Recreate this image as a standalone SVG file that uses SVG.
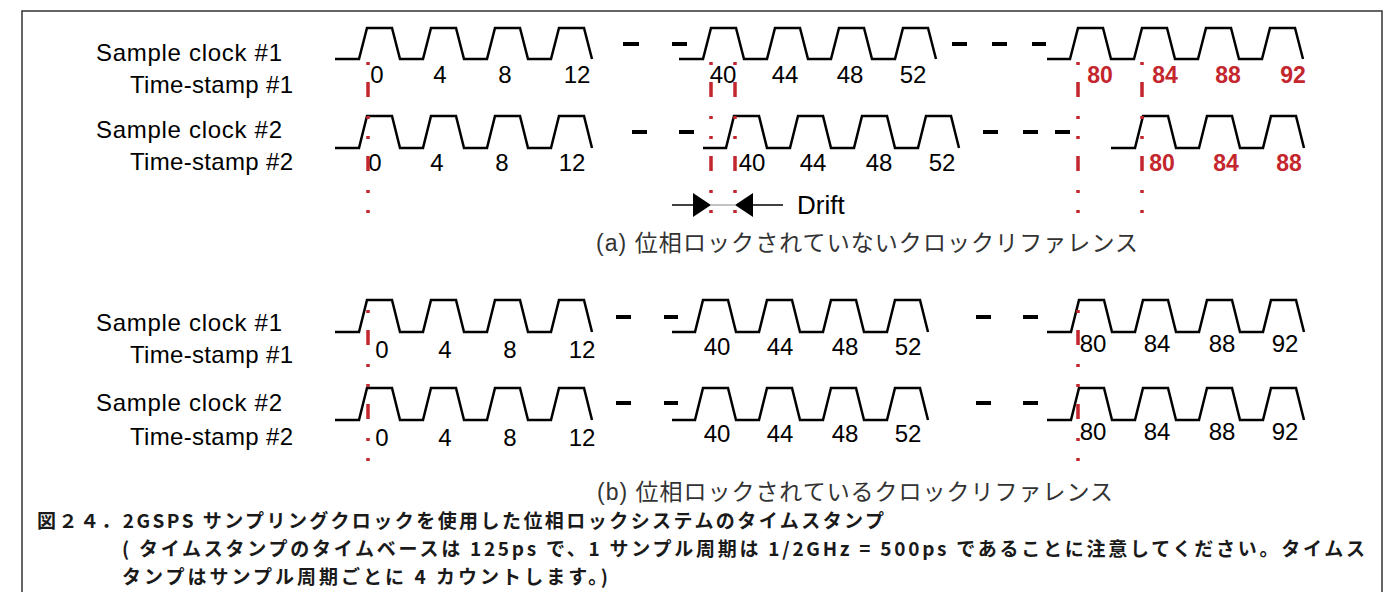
<svg xmlns="http://www.w3.org/2000/svg" width="1397" height="592" viewBox="0 0 1397 592">
<style>
.frame{fill:none;stroke:#333;stroke-width:1.5}
.wave{fill:none;stroke:#000;stroke-width:2.5;stroke-linejoin:miter}
.dash{stroke:#000;stroke-width:4}
.red{stroke:#c4262e;stroke-width:3.5;stroke-dasharray:3 17 15 19 3 17;fill:none}
.lbl{font-family:"Liberation Sans",Arial,sans-serif;font-size:24px;fill:#000}
.num{font-family:"Liberation Sans",Arial,sans-serif;font-size:24px;fill:#000;text-anchor:middle}
.rnum{font-family:"Liberation Sans",Arial,sans-serif;font-size:23px;font-weight:bold;fill:#c4262e;text-anchor:middle}
.sub{font-family:"Liberation Sans","Noto Sans CJK JP",sans-serif;font-size:23px;fill:#333}
.cap{font-family:"Noto Sans CJK JP",sans-serif;font-size:19px;font-weight:bold;fill:#1a1a1a}
</style>
<rect class="frame" x="22" y="11" width="1360" height="620"/>

<g id="panel-a">
  <g id="a-labels">
    <text class="lbl" x="96" y="61" textLength="186">Sample clock #1</text>
    <text class="lbl" x="130" y="93" textLength="163">Time-stamp #1</text>
    <text class="lbl" x="96" y="138" textLength="186">Sample clock #2</text>
    <text class="lbl" x="130" y="170" textLength="163">Time-stamp #2</text>
  </g>
  <g id="a-clock1">
    <path class="wave" d="M335,59 L359,59 L367,28 L392,28 L400,59 L423,59 L431,28 L456,28 L464,59 L487,59 L495,28 L520,28 L528,59 L551,59 L559,28 L584,28 L592,59"/>
    <path class="wave" d="M679,59 L703,59 L711,28 L736,28 L744,59 L767,59 L775,28 L800,28 L808,59 L831,59 L839,28 L864,28 L872,59 L895,59 L903,28 L928,28 L936,59"/>
    <path class="wave" d="M1047,59 L1070,59 L1078,28 L1103,28 L1111,59 L1134,59 L1142,28 L1167,28 L1175,59 L1198,59 L1206,28 L1231,28 L1239,59 L1262,59 L1270,28 L1295,28 L1303,59"/>
    <line class="dash" x1="623" y1="44" x2="639" y2="44"/>
    <line class="dash" x1="672" y1="44" x2="687" y2="44"/>
    <line class="dash" x1="952" y1="44" x2="967" y2="44"/>
    <line class="dash" x1="992" y1="44" x2="1007" y2="44"/>
    <line class="dash" x1="1032" y1="44" x2="1046" y2="44"/>
  </g>
  <g id="a-stamp1">
    <text class="num" x="377" y="83">0</text>
    <text class="num" x="440" y="83">4</text>
    <text class="num" x="505" y="83">8</text>
    <text class="num" x="577" y="83">12</text>
    <text class="num" x="723" y="83">40</text>
    <text class="num" x="785" y="83">44</text>
    <text class="num" x="850" y="83">48</text>
    <text class="num" x="913" y="83">52</text>
    <text class="rnum" x="1100" y="83">80</text>
    <text class="rnum" x="1165" y="83">84</text>
    <text class="rnum" x="1228" y="83">88</text>
    <text class="rnum" x="1293" y="83">92</text>
  </g>
  <g id="a-clock2">
    <path class="wave" d="M335,148 L359,148 L367,116 L392,116 L400,148 L423,148 L431,116 L456,116 L464,148 L487,148 L495,116 L520,116 L528,148 L551,148 L559,116 L584,116 L592,148"/>
    <path class="wave" d="M703,148 L726,148 L734,116 L759,116 L767,148 L790,148 L798,116 L823,116 L831,148 L854,148 L862,116 L887,116 L895,148 L918,148 L926,116 L951,116 L959,148"/>
    <path class="wave" d="M1111,148 L1135,148 L1143,116 L1168,116 L1176,148 L1199,148 L1207,116 L1232,116 L1240,148 L1263,148 L1271,116 L1296,116 L1304,148"/>
    <line class="dash" x1="632" y1="132" x2="647" y2="132"/>
    <line class="dash" x1="679" y1="132" x2="694" y2="132"/>
    <line class="dash" x1="983" y1="132" x2="998" y2="132"/>
    <line class="dash" x1="1023" y1="132" x2="1038" y2="132"/>
    <line class="dash" x1="1055" y1="132" x2="1070" y2="132"/>
  </g>
  <g id="a-stamp2">
    <text class="num" x="375" y="171">0</text>
    <text class="num" x="437" y="171">4</text>
    <text class="num" x="502" y="171">8</text>
    <text class="num" x="572" y="171">12</text>
    <text class="num" x="752" y="171">40</text>
    <text class="num" x="813" y="171">44</text>
    <text class="num" x="879" y="171">48</text>
    <text class="num" x="942" y="171">52</text>
    <text class="rnum" x="1162" y="171">80</text>
    <text class="rnum" x="1226" y="171">84</text>
    <text class="rnum" x="1289" y="171">88</text>
  </g>
  <g id="a-connectors">
    <line class="red" x1="368" y1="62" x2="368" y2="213"/>
    <line class="red" x1="711" y1="62" x2="711" y2="213"/>
    <line class="red" x1="735" y1="62" x2="735" y2="213"/>
    <line class="red" x1="1078" y1="62" x2="1078" y2="213"/>
    <line class="red" x1="1142" y1="62" x2="1142" y2="213"/>
  </g>
  <g id="a-drift">
    <line x1="672" y1="205" x2="694" y2="205" stroke="#000" stroke-width="1.5"/>
    <line x1="711" y1="205" x2="735" y2="205" stroke="#888" stroke-width="1"/>
    <line x1="752" y1="205" x2="783" y2="205" stroke="#000" stroke-width="1.5"/>
    <polygon points="693,193 711,205 693,217" fill="#000"/>
    <polygon points="753,193 735,205 753,217" fill="#000"/>
    <text class="lbl" x="797" y="214" style="font-size:26px">Drift</text>
  </g>
  <text class="sub" x="596" y="251" textLength="542">(a) 位相ロックされていないクロックリファレンス</text>
</g>

<g id="panel-b">
  <g id="b-labels">
    <text class="lbl" x="96" y="331" textLength="186">Sample clock #1</text>
    <text class="lbl" x="130" y="363" textLength="163">Time-stamp #1</text>
    <text class="lbl" x="96" y="411" textLength="186">Sample clock #2</text>
    <text class="lbl" x="130" y="445" textLength="163">Time-stamp #2</text>
  </g>
  <g id="b-clock1">
    <path class="wave" d="M335,332 L359,332 L367,300 L392,300 L400,332 L423,332 L431,300 L456,300 L464,332 L487,332 L495,300 L520,300 L528,332 L551,332 L559,300 L584,300 L592,332"/>
    <path class="wave" d="M672,332 L695,332 L703,300 L728,300 L736,332 L759,332 L767,300 L792,300 L800,332 L823,332 L831,300 L856,300 L864,332 L887,332 L895,300 L920,300 L928,332"/>
    <path class="wave" d="M1047,332 L1071,332 L1079,300 L1104,300 L1112,332 L1135,332 L1143,300 L1168,300 L1176,332 L1199,332 L1207,300 L1232,300 L1240,332 L1263,332 L1271,300 L1296,300 L1304,332"/>
    <line class="dash" x1="616" y1="317" x2="631" y2="317"/>
    <line class="dash" x1="664" y1="317" x2="678" y2="317"/>
    <line class="dash" x1="976" y1="317" x2="991" y2="317"/>
    <line class="dash" x1="1023" y1="317" x2="1038" y2="317"/>
  </g>
  <g id="b-stamp1">
    <text class="num" x="382" y="358">0</text>
    <text class="num" x="445" y="358">4</text>
    <text class="num" x="510" y="358">8</text>
    <text class="num" x="582" y="358">12</text>
    <text class="num" x="717" y="355">40</text>
    <text class="num" x="780" y="355">44</text>
    <text class="num" x="845" y="355">48</text>
    <text class="num" x="908" y="355">52</text>
    <text class="num" x="1093" y="352">80</text>
    <text class="num" x="1157" y="352">84</text>
    <text class="num" x="1222" y="352">88</text>
    <text class="num" x="1285" y="352">92</text>
  </g>
  <g id="b-clock2">
    <path class="wave" d="M335,420 L359,420 L367,388 L392,388 L400,420 L423,420 L431,388 L456,388 L464,420 L487,420 L495,388 L520,388 L528,420 L551,420 L559,388 L584,388 L592,420"/>
    <path class="wave" d="M672,420 L695,420 L703,388 L728,388 L736,420 L759,420 L767,388 L792,388 L800,420 L823,420 L831,388 L856,388 L864,420 L887,420 L895,388 L920,388 L928,420"/>
    <path class="wave" d="M1047,420 L1071,420 L1079,388 L1104,388 L1112,420 L1135,420 L1143,388 L1168,388 L1176,420 L1199,420 L1207,388 L1232,388 L1240,420 L1263,420 L1271,388 L1296,388 L1304,420"/>
    <line class="dash" x1="616" y1="403" x2="631" y2="403"/>
    <line class="dash" x1="664" y1="403" x2="678" y2="403"/>
    <line class="dash" x1="976" y1="403" x2="991" y2="403"/>
    <line class="dash" x1="1023" y1="403" x2="1038" y2="403"/>
  </g>
  <g id="b-stamp2">
    <text class="num" x="382" y="446">0</text>
    <text class="num" x="445" y="446">4</text>
    <text class="num" x="510" y="446">8</text>
    <text class="num" x="582" y="446">12</text>
    <text class="num" x="717" y="442">40</text>
    <text class="num" x="780" y="442">44</text>
    <text class="num" x="845" y="442">48</text>
    <text class="num" x="908" y="442">52</text>
    <text class="num" x="1093" y="440">80</text>
    <text class="num" x="1157" y="440">84</text>
    <text class="num" x="1222" y="440">88</text>
    <text class="num" x="1285" y="440">92</text>
  </g>
  <g id="b-connectors">
    <line class="red" x1="368" y1="310" x2="368" y2="461"/>
    <line class="red" x1="1078" y1="310" x2="1078" y2="461"/>
  </g>
  <text class="sub" x="597" y="500" textLength="516">(b) 位相ロックされているクロックリファレンス</text>
</g>

<g id="caption">
  <text class="cap" x="37" y="528" textLength="847">図２４．2GSPS サンプリングクロックを使用した位相ロックシステムのタイムスタンプ</text>
  <text class="cap" x="122" y="556" textLength="1243">( タイムスタンプのタイムベースは 125ps で、1 サンプル周期は 1/2GHz = 500ps であることに注意してください。タイムス</text>
  <text class="cap" x="122" y="584" textLength="486">タンプはサンプル周期ごとに 4 カウントします。)</text>
</g>
</svg>
